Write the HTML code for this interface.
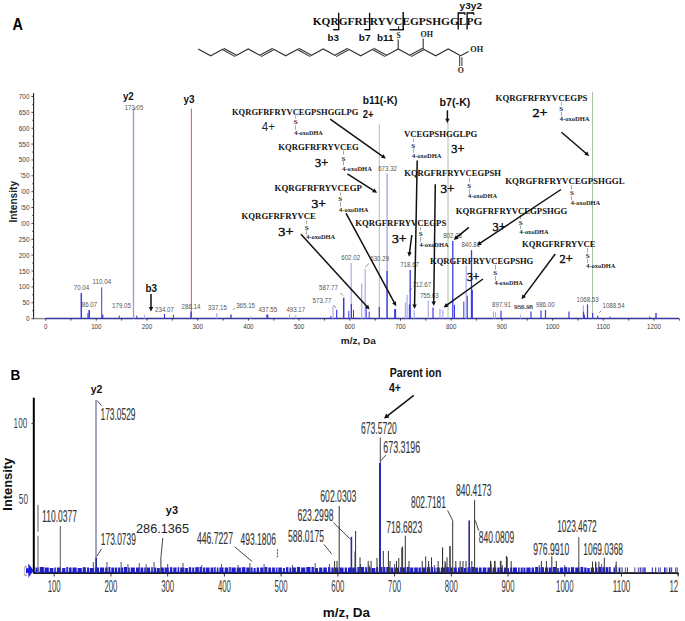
<!DOCTYPE html>
<html><head><meta charset="utf-8"><style>
html,body{margin:0;padding:0;background:#fff;}
body{width:685px;height:621px;overflow:hidden;}
svg{display:block;}
</style></head><body>
<svg width="685" height="621" viewBox="0 0 685 621">
<rect width="685" height="621" fill="#fff"/>
<text x="12.60" y="30.10" font-size="16.5" font-family='"Liberation Sans", sans-serif' font-weight="bold" fill="#000" text-anchor="start" textLength="10.40" lengthAdjust="spacingAndGlyphs" >A</text>
<text x="312.70" y="24.80" font-size="10.8" font-family='"Liberation Serif", serif' font-weight="bold" fill="#111" text-anchor="start" textLength="169.60" lengthAdjust="spacingAndGlyphs" >KQRGFRFRYVCEGPSHGGLPG</text>
<line x1="338.70" y1="12.80" x2="338.70" y2="29.90" stroke="#000" stroke-width="1.3" />
<line x1="333.10" y1="29.70" x2="339.30" y2="29.70" stroke="#000" stroke-width="1.3" />
<line x1="369.60" y1="12.80" x2="369.60" y2="29.90" stroke="#000" stroke-width="1.3" />
<line x1="364.40" y1="29.70" x2="370.20" y2="29.70" stroke="#000" stroke-width="1.3" />
<line x1="403.20" y1="12.10" x2="403.20" y2="30.10" stroke="#000" stroke-width="1.4" />
<line x1="389.70" y1="29.80" x2="403.80" y2="29.80" stroke="#000" stroke-width="1.3" />
<line x1="398.60" y1="26.30" x2="398.60" y2="29.80" stroke="#000" stroke-width="1.0" />
<path d="M458.2,29.6 L458.2,13.0 L464.7,13.0 L464.9,14.8" fill="none" stroke="#000" stroke-width="1.3"/>
<path d="M467.1,29.6 L467.1,13.0 L473.6,13.0 L473.8,14.8" fill="none" stroke="#000" stroke-width="1.3"/>
<text x="327.50" y="40.60" font-size="9.5" font-family='"Liberation Sans", sans-serif' font-weight="bold" fill="#111" text-anchor="start" textLength="11.50" lengthAdjust="spacingAndGlyphs" >b3</text>
<text x="358.80" y="40.60" font-size="9.5" font-family='"Liberation Sans", sans-serif' font-weight="bold" fill="#111" text-anchor="start" textLength="11.70" lengthAdjust="spacingAndGlyphs" >b7</text>
<text x="377.00" y="40.80" font-size="9.5" font-family='"Liberation Sans", sans-serif' font-weight="bold" fill="#111" text-anchor="start" textLength="16.60" lengthAdjust="spacingAndGlyphs" >b11</text>
<text x="459.60" y="8.60" font-size="9.5" font-family='"Liberation Sans", sans-serif' font-weight="bold" fill="#111" text-anchor="start" textLength="22.40" lengthAdjust="spacingAndGlyphs" >y3y2</text>
<path d="M198.20,49.00 L210.70,55.80 L223.20,49.00" fill="none" stroke="#333" stroke-width="1.2" stroke-linejoin="miter"/>
<path d="M235.70,55.80 L248.20,49.00 L260.70,55.80" fill="none" stroke="#333" stroke-width="1.2" stroke-linejoin="miter"/>
<path d="M273.20,49.00 L285.70,55.80 L298.20,49.00" fill="none" stroke="#333" stroke-width="1.2" stroke-linejoin="miter"/>
<path d="M310.70,55.80 L323.20,49.00 L335.70,55.80" fill="none" stroke="#333" stroke-width="1.2" stroke-linejoin="miter"/>
<path d="M348.20,49.00 L360.70,55.80 L373.20,49.00" fill="none" stroke="#333" stroke-width="1.2" stroke-linejoin="miter"/>
<path d="M385.70,55.80 L398.20,49.00 L410.70,55.80" fill="none" stroke="#333" stroke-width="1.2" stroke-linejoin="miter"/>
<path d="M423.20,49.00 L435.70,55.80 L448.20,49.00 L460.70,55.80" fill="none" stroke="#333" stroke-width="1.2" stroke-linejoin="miter"/>
<line x1="222.75" y1="49.83" x2="235.25" y2="56.63" stroke="#333" stroke-width="1.1" />
<line x1="223.65" y1="48.17" x2="236.15" y2="54.97" stroke="#333" stroke-width="1.1" />
<line x1="261.15" y1="56.63" x2="273.65" y2="49.83" stroke="#333" stroke-width="1.1" />
<line x1="260.25" y1="54.97" x2="272.75" y2="48.17" stroke="#333" stroke-width="1.1" />
<line x1="297.75" y1="49.83" x2="310.25" y2="56.63" stroke="#333" stroke-width="1.1" />
<line x1="298.65" y1="48.17" x2="311.15" y2="54.97" stroke="#333" stroke-width="1.1" />
<line x1="336.15" y1="56.63" x2="348.65" y2="49.83" stroke="#333" stroke-width="1.1" />
<line x1="335.25" y1="54.97" x2="347.75" y2="48.17" stroke="#333" stroke-width="1.1" />
<line x1="372.75" y1="49.83" x2="385.25" y2="56.63" stroke="#333" stroke-width="1.1" />
<line x1="373.65" y1="48.17" x2="386.15" y2="54.97" stroke="#333" stroke-width="1.1" />
<line x1="411.15" y1="56.63" x2="423.65" y2="49.83" stroke="#333" stroke-width="1.1" />
<line x1="410.25" y1="54.97" x2="422.75" y2="48.17" stroke="#333" stroke-width="1.1" />
<line x1="398.20" y1="49.00" x2="398.20" y2="39.60" stroke="#333" stroke-width="1.1" />
<text x="398.50" y="37.60" font-size="7.5" font-family='"Liberation Serif", serif' font-weight="bold" fill="#222" text-anchor="middle" >S</text>
<line x1="423.20" y1="49.00" x2="423.20" y2="38.60" stroke="#333" stroke-width="1.1" />
<text x="426.80" y="37.20" font-size="7.8" font-family='"Liberation Serif", serif' font-weight="bold" fill="#222" text-anchor="middle" textLength="12.50" lengthAdjust="spacingAndGlyphs" >OH</text>
<line x1="460.70" y1="55.80" x2="468.60" y2="51.60" stroke="#333" stroke-width="1.1" />
<text x="476.70" y="51.80" font-size="7.8" font-family='"Liberation Serif", serif' font-weight="bold" fill="#222" text-anchor="middle" textLength="12.80" lengthAdjust="spacingAndGlyphs" >OH</text>
<line x1="459.70" y1="55.80" x2="459.70" y2="66.00" stroke="#333" stroke-width="1.0" />
<line x1="461.90" y1="57.30" x2="461.90" y2="66.00" stroke="#333" stroke-width="1.0" />
<text x="460.70" y="73.20" font-size="7.8" font-family='"Liberation Serif", serif' font-weight="bold" fill="#222" text-anchor="middle" >O</text>
<line x1="33.60" y1="93.00" x2="33.60" y2="319.20" stroke="#222" stroke-width="1.1" />
<line x1="33.00" y1="318.60" x2="45.50" y2="318.60" stroke="#888" stroke-width="1.4" />
<line x1="45.50" y1="318.60" x2="679.00" y2="318.60" stroke="#35359a" stroke-width="1.5" />
<line x1="31.40" y1="318.60" x2="33.60" y2="318.60" stroke="#333" stroke-width="0.9" />
<line x1="32.20" y1="310.67" x2="33.60" y2="310.67" stroke="#333" stroke-width="0.9" />
<line x1="31.40" y1="302.74" x2="33.60" y2="302.74" stroke="#333" stroke-width="0.9" />
<line x1="32.20" y1="294.80" x2="33.60" y2="294.80" stroke="#333" stroke-width="0.9" />
<line x1="31.40" y1="286.87" x2="33.60" y2="286.87" stroke="#333" stroke-width="0.9" />
<line x1="32.20" y1="278.94" x2="33.60" y2="278.94" stroke="#333" stroke-width="0.9" />
<line x1="31.40" y1="271.01" x2="33.60" y2="271.01" stroke="#333" stroke-width="0.9" />
<line x1="32.20" y1="263.08" x2="33.60" y2="263.08" stroke="#333" stroke-width="0.9" />
<line x1="31.40" y1="255.14" x2="33.60" y2="255.14" stroke="#333" stroke-width="0.9" />
<line x1="32.20" y1="247.21" x2="33.60" y2="247.21" stroke="#333" stroke-width="0.9" />
<line x1="31.40" y1="239.28" x2="33.60" y2="239.28" stroke="#333" stroke-width="0.9" />
<line x1="32.20" y1="231.35" x2="33.60" y2="231.35" stroke="#333" stroke-width="0.9" />
<line x1="31.40" y1="223.41" x2="33.60" y2="223.41" stroke="#333" stroke-width="0.9" />
<line x1="32.20" y1="215.48" x2="33.60" y2="215.48" stroke="#333" stroke-width="0.9" />
<line x1="31.40" y1="207.55" x2="33.60" y2="207.55" stroke="#333" stroke-width="0.9" />
<line x1="32.20" y1="199.62" x2="33.60" y2="199.62" stroke="#333" stroke-width="0.9" />
<line x1="31.40" y1="191.69" x2="33.60" y2="191.69" stroke="#333" stroke-width="0.9" />
<line x1="32.20" y1="183.75" x2="33.60" y2="183.75" stroke="#333" stroke-width="0.9" />
<line x1="31.40" y1="175.82" x2="33.60" y2="175.82" stroke="#333" stroke-width="0.9" />
<line x1="32.20" y1="167.89" x2="33.60" y2="167.89" stroke="#333" stroke-width="0.9" />
<line x1="31.40" y1="159.96" x2="33.60" y2="159.96" stroke="#333" stroke-width="0.9" />
<line x1="32.20" y1="152.03" x2="33.60" y2="152.03" stroke="#333" stroke-width="0.9" />
<line x1="31.40" y1="144.09" x2="33.60" y2="144.09" stroke="#333" stroke-width="0.9" />
<line x1="32.20" y1="136.16" x2="33.60" y2="136.16" stroke="#333" stroke-width="0.9" />
<line x1="31.40" y1="128.23" x2="33.60" y2="128.23" stroke="#333" stroke-width="0.9" />
<line x1="32.20" y1="120.30" x2="33.60" y2="120.30" stroke="#333" stroke-width="0.9" />
<line x1="31.40" y1="112.36" x2="33.60" y2="112.36" stroke="#333" stroke-width="0.9" />
<line x1="32.20" y1="104.43" x2="33.60" y2="104.43" stroke="#333" stroke-width="0.9" />
<line x1="31.40" y1="96.50" x2="33.60" y2="96.50" stroke="#333" stroke-width="0.9" />
<text x="29.50" y="321.10" font-size="7.2" font-family='"Liberation Sans", sans-serif' font-weight="normal" fill="#3a3a3a" text-anchor="end" textLength="3.56" lengthAdjust="spacingAndGlyphs" >0</text>
<text x="29.50" y="305.24" font-size="7.2" font-family='"Liberation Sans", sans-serif' font-weight="normal" fill="#3a3a3a" text-anchor="end" textLength="7.12" lengthAdjust="spacingAndGlyphs" >50</text>
<text x="29.50" y="289.37" font-size="7.2" font-family='"Liberation Sans", sans-serif' font-weight="normal" fill="#3a3a3a" text-anchor="end" textLength="10.68" lengthAdjust="spacingAndGlyphs" >100</text>
<text x="29.50" y="273.51" font-size="7.2" font-family='"Liberation Sans", sans-serif' font-weight="normal" fill="#3a3a3a" text-anchor="end" textLength="10.68" lengthAdjust="spacingAndGlyphs" >150</text>
<text x="29.50" y="257.64" font-size="7.2" font-family='"Liberation Sans", sans-serif' font-weight="normal" fill="#3a3a3a" text-anchor="end" textLength="10.68" lengthAdjust="spacingAndGlyphs" >200</text>
<text x="29.50" y="241.78" font-size="7.2" font-family='"Liberation Sans", sans-serif' font-weight="normal" fill="#3a3a3a" text-anchor="end" textLength="10.68" lengthAdjust="spacingAndGlyphs" >250</text>
<text x="29.50" y="225.91" font-size="7.2" font-family='"Liberation Sans", sans-serif' font-weight="normal" fill="#3a3a3a" text-anchor="end" textLength="10.68" lengthAdjust="spacingAndGlyphs" >300</text>
<text x="29.50" y="210.05" font-size="7.2" font-family='"Liberation Sans", sans-serif' font-weight="normal" fill="#3a3a3a" text-anchor="end" textLength="10.68" lengthAdjust="spacingAndGlyphs" >350</text>
<text x="29.50" y="194.19" font-size="7.2" font-family='"Liberation Sans", sans-serif' font-weight="normal" fill="#3a3a3a" text-anchor="end" textLength="10.68" lengthAdjust="spacingAndGlyphs" >400</text>
<text x="29.50" y="178.32" font-size="7.2" font-family='"Liberation Sans", sans-serif' font-weight="normal" fill="#3a3a3a" text-anchor="end" textLength="10.68" lengthAdjust="spacingAndGlyphs" >450</text>
<text x="29.50" y="162.46" font-size="7.2" font-family='"Liberation Sans", sans-serif' font-weight="normal" fill="#3a3a3a" text-anchor="end" textLength="10.68" lengthAdjust="spacingAndGlyphs" >500</text>
<text x="29.50" y="146.59" font-size="7.2" font-family='"Liberation Sans", sans-serif' font-weight="normal" fill="#3a3a3a" text-anchor="end" textLength="10.68" lengthAdjust="spacingAndGlyphs" >550</text>
<text x="29.50" y="130.73" font-size="7.2" font-family='"Liberation Sans", sans-serif' font-weight="normal" fill="#3a3a3a" text-anchor="end" textLength="10.68" lengthAdjust="spacingAndGlyphs" >600</text>
<text x="29.50" y="114.86" font-size="7.2" font-family='"Liberation Sans", sans-serif' font-weight="normal" fill="#3a3a3a" text-anchor="end" textLength="10.68" lengthAdjust="spacingAndGlyphs" >650</text>
<text x="29.50" y="99.00" font-size="7.2" font-family='"Liberation Sans", sans-serif' font-weight="normal" fill="#3a3a3a" text-anchor="end" textLength="10.68" lengthAdjust="spacingAndGlyphs" >700</text>
<line x1="45.60" y1="318.60" x2="45.60" y2="320.60" stroke="#333" stroke-width="0.9" />
<line x1="70.95" y1="318.60" x2="70.95" y2="320.60" stroke="#333" stroke-width="0.9" />
<line x1="96.30" y1="318.60" x2="96.30" y2="320.60" stroke="#333" stroke-width="0.9" />
<line x1="121.65" y1="318.60" x2="121.65" y2="320.60" stroke="#333" stroke-width="0.9" />
<line x1="147.00" y1="318.60" x2="147.00" y2="320.60" stroke="#333" stroke-width="0.9" />
<line x1="172.35" y1="318.60" x2="172.35" y2="320.60" stroke="#333" stroke-width="0.9" />
<line x1="197.70" y1="318.60" x2="197.70" y2="320.60" stroke="#333" stroke-width="0.9" />
<line x1="223.05" y1="318.60" x2="223.05" y2="320.60" stroke="#333" stroke-width="0.9" />
<line x1="248.40" y1="318.60" x2="248.40" y2="320.60" stroke="#333" stroke-width="0.9" />
<line x1="273.75" y1="318.60" x2="273.75" y2="320.60" stroke="#333" stroke-width="0.9" />
<line x1="299.10" y1="318.60" x2="299.10" y2="320.60" stroke="#333" stroke-width="0.9" />
<line x1="324.45" y1="318.60" x2="324.45" y2="320.60" stroke="#333" stroke-width="0.9" />
<line x1="349.80" y1="318.60" x2="349.80" y2="320.60" stroke="#333" stroke-width="0.9" />
<line x1="375.15" y1="318.60" x2="375.15" y2="320.60" stroke="#333" stroke-width="0.9" />
<line x1="400.50" y1="318.60" x2="400.50" y2="320.60" stroke="#333" stroke-width="0.9" />
<line x1="425.85" y1="318.60" x2="425.85" y2="320.60" stroke="#333" stroke-width="0.9" />
<line x1="451.20" y1="318.60" x2="451.20" y2="320.60" stroke="#333" stroke-width="0.9" />
<line x1="476.55" y1="318.60" x2="476.55" y2="320.60" stroke="#333" stroke-width="0.9" />
<line x1="501.90" y1="318.60" x2="501.90" y2="320.60" stroke="#333" stroke-width="0.9" />
<line x1="527.25" y1="318.60" x2="527.25" y2="320.60" stroke="#333" stroke-width="0.9" />
<line x1="552.60" y1="318.60" x2="552.60" y2="320.60" stroke="#333" stroke-width="0.9" />
<line x1="577.95" y1="318.60" x2="577.95" y2="320.60" stroke="#333" stroke-width="0.9" />
<line x1="603.30" y1="318.60" x2="603.30" y2="320.60" stroke="#333" stroke-width="0.9" />
<line x1="628.65" y1="318.60" x2="628.65" y2="320.60" stroke="#333" stroke-width="0.9" />
<line x1="654.00" y1="318.60" x2="654.00" y2="320.60" stroke="#333" stroke-width="0.9" />
<line x1="679.35" y1="318.60" x2="679.35" y2="320.60" stroke="#333" stroke-width="0.9" />
<text x="45.60" y="329.10" font-size="6.9" font-family='"Liberation Sans", sans-serif' font-weight="normal" fill="#3a3a3a" text-anchor="middle" textLength="3.45" lengthAdjust="spacingAndGlyphs" >0</text>
<text x="96.30" y="329.10" font-size="6.9" font-family='"Liberation Sans", sans-serif' font-weight="normal" fill="#3a3a3a" text-anchor="middle" textLength="10.34" lengthAdjust="spacingAndGlyphs" >100</text>
<text x="147.00" y="329.10" font-size="6.9" font-family='"Liberation Sans", sans-serif' font-weight="normal" fill="#3a3a3a" text-anchor="middle" textLength="10.34" lengthAdjust="spacingAndGlyphs" >200</text>
<text x="197.70" y="329.10" font-size="6.9" font-family='"Liberation Sans", sans-serif' font-weight="normal" fill="#3a3a3a" text-anchor="middle" textLength="10.34" lengthAdjust="spacingAndGlyphs" >300</text>
<text x="248.40" y="329.10" font-size="6.9" font-family='"Liberation Sans", sans-serif' font-weight="normal" fill="#3a3a3a" text-anchor="middle" textLength="10.34" lengthAdjust="spacingAndGlyphs" >400</text>
<text x="299.10" y="329.10" font-size="6.9" font-family='"Liberation Sans", sans-serif' font-weight="normal" fill="#3a3a3a" text-anchor="middle" textLength="10.34" lengthAdjust="spacingAndGlyphs" >500</text>
<text x="349.80" y="329.10" font-size="6.9" font-family='"Liberation Sans", sans-serif' font-weight="normal" fill="#3a3a3a" text-anchor="middle" textLength="10.34" lengthAdjust="spacingAndGlyphs" >600</text>
<text x="400.50" y="329.10" font-size="6.9" font-family='"Liberation Sans", sans-serif' font-weight="normal" fill="#3a3a3a" text-anchor="middle" textLength="10.34" lengthAdjust="spacingAndGlyphs" >700</text>
<text x="451.20" y="329.10" font-size="6.9" font-family='"Liberation Sans", sans-serif' font-weight="normal" fill="#3a3a3a" text-anchor="middle" textLength="10.34" lengthAdjust="spacingAndGlyphs" >800</text>
<text x="501.90" y="329.10" font-size="6.9" font-family='"Liberation Sans", sans-serif' font-weight="normal" fill="#3a3a3a" text-anchor="middle" textLength="10.34" lengthAdjust="spacingAndGlyphs" >900</text>
<text x="552.60" y="329.10" font-size="6.9" font-family='"Liberation Sans", sans-serif' font-weight="normal" fill="#3a3a3a" text-anchor="middle" textLength="13.79" lengthAdjust="spacingAndGlyphs" >1000</text>
<text x="603.30" y="329.10" font-size="6.9" font-family='"Liberation Sans", sans-serif' font-weight="normal" fill="#3a3a3a" text-anchor="middle" textLength="13.79" lengthAdjust="spacingAndGlyphs" >1100</text>
<text x="654.00" y="329.10" font-size="6.9" font-family='"Liberation Sans", sans-serif' font-weight="normal" fill="#3a3a3a" text-anchor="middle" textLength="13.79" lengthAdjust="spacingAndGlyphs" >1200</text>
<text x="340.80" y="344.30" font-size="9.8" font-family='"Liberation Sans", sans-serif' font-weight="bold" fill="#222" text-anchor="start" textLength="35.00" lengthAdjust="spacingAndGlyphs" >m/z, Da</text>
<rect x="7" y="174" width="14.4" height="55" fill="#fff"/>
<text x="0.00" y="0.00" font-size="10.2" font-family='"Liberation Sans", sans-serif' font-weight="bold" fill="#222" text-anchor="middle" textLength="41.60" lengthAdjust="spacingAndGlyphs" transform="translate(16.6,201.8) rotate(-90)">Intensity</text>
<line x1="379.30" y1="124.40" x2="379.30" y2="318.60" stroke="#9dbd9d" stroke-width="0.9" />
<line x1="448.00" y1="122.50" x2="448.00" y2="318.60" stroke="#9dbd9d" stroke-width="0.9" />
<line x1="592.50" y1="92.00" x2="592.50" y2="318.60" stroke="#9dbd9d" stroke-width="0.9" />
<line x1="133.50" y1="108.80" x2="133.50" y2="318.60" stroke="#a092dc" stroke-width="1.3" />
<line x1="191.40" y1="108.50" x2="191.40" y2="318.60" stroke="#e46464" stroke-width="1.1" />
<line x1="81.30" y1="293.10" x2="81.30" y2="318.60" stroke="#3b3be0" stroke-width="1.5" />
<line x1="89.20" y1="310.10" x2="89.20" y2="318.60" stroke="#3b3be0" stroke-width="1.6" />
<line x1="87.90" y1="313.00" x2="87.90" y2="318.60" stroke="#3b3be0" stroke-width="1.0" />
<line x1="101.70" y1="287.40" x2="101.70" y2="318.60" stroke="#3b3be0" stroke-width="1.0" />
<line x1="102.80" y1="314.50" x2="102.80" y2="318.60" stroke="#3b3be0" stroke-width="1.2" />
<line x1="119.30" y1="315.60" x2="119.30" y2="318.60" stroke="#3b3be0" stroke-width="1.0" />
<line x1="136.70" y1="315.60" x2="136.70" y2="318.60" stroke="#3b3be0" stroke-width="1.0" />
<line x1="144.40" y1="314.60" x2="144.40" y2="318.60" stroke="#aaaaf2" stroke-width="1.0" />
<line x1="164.50" y1="314.00" x2="164.50" y2="318.60" stroke="#3b3be0" stroke-width="1.2" />
<line x1="173.40" y1="314.60" x2="173.40" y2="318.60" stroke="#3b3be0" stroke-width="1.0" />
<line x1="191.00" y1="311.50" x2="191.00" y2="318.60" stroke="#3b3be0" stroke-width="1.4" />
<line x1="216.80" y1="313.30" x2="216.80" y2="318.60" stroke="#aaaaf2" stroke-width="1.2" />
<line x1="231.00" y1="314.50" x2="231.00" y2="318.60" stroke="#3b3be0" stroke-width="1.4" />
<line x1="251.00" y1="316.00" x2="251.00" y2="318.60" stroke="#aaaaf2" stroke-width="1.0" />
<line x1="267.30" y1="314.50" x2="267.30" y2="318.60" stroke="#3b3be0" stroke-width="2.0" />
<line x1="289.50" y1="314.00" x2="289.50" y2="318.60" stroke="#aaaaf2" stroke-width="1.0" />
<line x1="295.80" y1="315.00" x2="295.80" y2="318.60" stroke="#aaaaf2" stroke-width="1.0" />
<line x1="330.80" y1="316.00" x2="330.80" y2="318.60" stroke="#3b3be0" stroke-width="1.0" />
<line x1="333.00" y1="306.30" x2="333.00" y2="318.60" stroke="#aaaaf2" stroke-width="1.2" />
<line x1="336.70" y1="309.80" x2="336.70" y2="318.60" stroke="#3b3be0" stroke-width="1.2" />
<line x1="343.70" y1="297.70" x2="343.70" y2="318.60" stroke="#3b3be0" stroke-width="1.5" />
<line x1="348.80" y1="311.00" x2="348.80" y2="318.60" stroke="#3b3be0" stroke-width="1.0" />
<line x1="351.20" y1="263.00" x2="351.20" y2="318.60" stroke="#aaaaf2" stroke-width="1.2" />
<line x1="351.40" y1="304.00" x2="351.40" y2="318.60" stroke="#3b3be0" stroke-width="1.2" />
<line x1="353.50" y1="309.80" x2="353.50" y2="318.60" stroke="#3b3be0" stroke-width="1.0" />
<line x1="361.70" y1="283.60" x2="361.70" y2="318.60" stroke="#aaaaf2" stroke-width="1.2" />
<line x1="365.20" y1="269.00" x2="365.20" y2="318.60" stroke="#aaaaf2" stroke-width="1.2" />
<line x1="366.20" y1="307.50" x2="366.20" y2="318.60" stroke="#3b3be0" stroke-width="1.0" />
<line x1="369.20" y1="311.70" x2="369.20" y2="318.60" stroke="#3b3be0" stroke-width="1.0" />
<line x1="379.30" y1="307.00" x2="379.30" y2="318.60" stroke="#3b3be0" stroke-width="1.2" />
<line x1="387.10" y1="173.30" x2="387.10" y2="318.60" stroke="#9a9af0" stroke-width="1.2" />
<line x1="387.10" y1="271.00" x2="387.10" y2="318.60" stroke="#3b3be0" stroke-width="1.3" />
<line x1="395.10" y1="309.00" x2="395.10" y2="318.60" stroke="#3b3be0" stroke-width="2.0" />
<line x1="405.40" y1="302.50" x2="405.40" y2="318.60" stroke="#aaaaf2" stroke-width="1.2" />
<line x1="407.10" y1="294.80" x2="407.10" y2="318.60" stroke="#aaaaf2" stroke-width="1.2" />
<line x1="410.20" y1="269.90" x2="410.20" y2="318.60" stroke="#3b3be0" stroke-width="1.3" />
<line x1="409.50" y1="304.40" x2="409.50" y2="318.60" stroke="#3b3be0" stroke-width="1.3" />
<line x1="414.20" y1="310.20" x2="414.20" y2="318.60" stroke="#aaaaf2" stroke-width="1.2" />
<line x1="428.30" y1="300.50" x2="428.30" y2="318.60" stroke="#aaaaf2" stroke-width="1.2" />
<line x1="433.00" y1="307.50" x2="433.00" y2="318.60" stroke="#3b3be0" stroke-width="1.2" />
<line x1="440.00" y1="308.60" x2="440.00" y2="318.60" stroke="#aaaaf2" stroke-width="1.2" />
<line x1="442.80" y1="309.80" x2="442.80" y2="318.60" stroke="#aaaaf2" stroke-width="1.2" />
<line x1="452.80" y1="240.90" x2="452.80" y2="318.60" stroke="#3b3be0" stroke-width="1.3" />
<line x1="454.50" y1="305.00" x2="454.50" y2="318.60" stroke="#3b3be0" stroke-width="1.0" />
<line x1="463.80" y1="301.60" x2="463.80" y2="318.60" stroke="#3b3be0" stroke-width="1.0" />
<line x1="466.20" y1="265.40" x2="466.20" y2="318.60" stroke="#aaaaf2" stroke-width="1.2" />
<line x1="467.30" y1="295.80" x2="467.30" y2="318.60" stroke="#3b3be0" stroke-width="1.0" />
<line x1="471.50" y1="250.20" x2="471.50" y2="318.60" stroke="#3b3be0" stroke-width="1.3" />
<line x1="472.40" y1="290.00" x2="472.40" y2="318.60" stroke="#3b3be0" stroke-width="1.0" />
<line x1="493.50" y1="311.40" x2="493.50" y2="318.60" stroke="#aaaaf2" stroke-width="1.0" />
<line x1="495.60" y1="312.00" x2="495.60" y2="318.60" stroke="#aaaaf2" stroke-width="1.0" />
<line x1="501.00" y1="310.80" x2="501.00" y2="318.60" stroke="#3b3be0" stroke-width="1.2" />
<line x1="520.40" y1="314.40" x2="520.40" y2="318.60" stroke="#aaaaf2" stroke-width="1.0" />
<line x1="531.00" y1="311.40" x2="531.00" y2="318.60" stroke="#3b3be0" stroke-width="1.2" />
<line x1="541.00" y1="310.50" x2="541.00" y2="318.60" stroke="#3b3be0" stroke-width="1.2" />
<line x1="545.50" y1="310.00" x2="545.50" y2="318.60" stroke="#3b3be0" stroke-width="1.2" />
<line x1="569.00" y1="311.40" x2="569.00" y2="318.60" stroke="#3b3be0" stroke-width="1.2" />
<line x1="583.30" y1="305.30" x2="583.30" y2="318.60" stroke="#aaaaf2" stroke-width="1.2" />
<line x1="583.60" y1="311.80" x2="583.60" y2="318.60" stroke="#3b3be0" stroke-width="1.2" />
<line x1="584.40" y1="314.90" x2="584.40" y2="318.60" stroke="#3b3be0" stroke-width="1.0" />
<line x1="587.50" y1="304.40" x2="587.50" y2="318.60" stroke="#3b3be0" stroke-width="1.2" />
<line x1="592.60" y1="313.10" x2="592.60" y2="318.60" stroke="#3b3be0" stroke-width="1.2" />
<line x1="597.70" y1="315.80" x2="597.70" y2="318.60" stroke="#3b3be0" stroke-width="1.2" />
<line x1="610.00" y1="316.50" x2="610.00" y2="318.60" stroke="#3b3be0" stroke-width="1.0" />
<line x1="649.70" y1="316.50" x2="649.70" y2="318.60" stroke="#3b3be0" stroke-width="1.0" />
<line x1="656.00" y1="313.00" x2="656.00" y2="318.60" stroke="#3b3be0" stroke-width="1.4" />
<text x="81.50" y="290.00" font-size="7.0" font-family='"Liberation Sans", sans-serif' font-weight="normal" fill="#555" text-anchor="middle" textLength="15.30" lengthAdjust="spacingAndGlyphs" >70.04</text>
<text x="89.50" y="307.00" font-size="7.0" font-family='"Liberation Sans", sans-serif' font-weight="normal" fill="#555" text-anchor="middle" textLength="15.39" lengthAdjust="spacingAndGlyphs" >86.07</text>
<text x="101.80" y="284.00" font-size="7.0" font-family='"Liberation Sans", sans-serif' font-weight="normal" fill="#555" text-anchor="middle" textLength="18.81" lengthAdjust="spacingAndGlyphs" >110.04</text>
<text x="134.00" y="109.90" font-size="7.0" font-family='"Liberation Sans", sans-serif' font-weight="normal" fill="#555" text-anchor="middle" textLength="18.60" lengthAdjust="spacingAndGlyphs" >173.05</text>
<text x="121.50" y="307.50" font-size="7.0" font-family='"Liberation Sans", sans-serif' font-weight="normal" fill="#555" text-anchor="middle" textLength="18.81" lengthAdjust="spacingAndGlyphs" >179.05</text>
<text x="164.50" y="311.50" font-size="7.0" font-family='"Liberation Sans", sans-serif' font-weight="normal" fill="#555" text-anchor="middle" textLength="18.81" lengthAdjust="spacingAndGlyphs" >234.07</text>
<text x="191.00" y="308.50" font-size="7.0" font-family='"Liberation Sans", sans-serif' font-weight="normal" fill="#555" text-anchor="middle" textLength="18.81" lengthAdjust="spacingAndGlyphs" >286.14</text>
<text x="217.50" y="309.80" font-size="7.0" font-family='"Liberation Sans", sans-serif' font-weight="normal" fill="#555" text-anchor="middle" textLength="18.81" lengthAdjust="spacingAndGlyphs" >337.15</text>
<text x="245.60" y="307.50" font-size="7.0" font-family='"Liberation Sans", sans-serif' font-weight="normal" fill="#555" text-anchor="middle" textLength="18.81" lengthAdjust="spacingAndGlyphs" >365.15</text>
<text x="267.80" y="311.70" font-size="7.0" font-family='"Liberation Sans", sans-serif' font-weight="normal" fill="#555" text-anchor="middle" textLength="18.81" lengthAdjust="spacingAndGlyphs" >437.55</text>
<text x="295.80" y="311.70" font-size="7.0" font-family='"Liberation Sans", sans-serif' font-weight="normal" fill="#555" text-anchor="middle" textLength="18.81" lengthAdjust="spacingAndGlyphs" >493.17</text>
<text x="322.00" y="302.80" font-size="7.0" font-family='"Liberation Sans", sans-serif' font-weight="normal" fill="#555" text-anchor="middle" textLength="18.81" lengthAdjust="spacingAndGlyphs" >573.77</text>
<text x="328.50" y="290.00" font-size="7.0" font-family='"Liberation Sans", sans-serif' font-weight="normal" fill="#555" text-anchor="middle" textLength="18.81" lengthAdjust="spacingAndGlyphs" >587.77</text>
<text x="350.70" y="259.60" font-size="7.0" font-family='"Liberation Sans", sans-serif' font-weight="normal" fill="#555" text-anchor="middle" textLength="18.81" lengthAdjust="spacingAndGlyphs" >602.02</text>
<text x="379.70" y="261.20" font-size="7.0" font-family='"Liberation Sans", sans-serif' font-weight="normal" fill="#555" text-anchor="middle" textLength="18.81" lengthAdjust="spacingAndGlyphs" >630.29</text>
<text x="387.60" y="170.50" font-size="7.0" font-family='"Liberation Sans", sans-serif' font-weight="normal" fill="#555" text-anchor="middle" textLength="18.81" lengthAdjust="spacingAndGlyphs" >673.32</text>
<text x="409.60" y="266.60" font-size="7.0" font-family='"Liberation Sans", sans-serif' font-weight="normal" fill="#555" text-anchor="middle" textLength="18.81" lengthAdjust="spacingAndGlyphs" >718.67</text>
<text x="421.80" y="287.00" font-size="7.0" font-family='"Liberation Sans", sans-serif' font-weight="normal" fill="#555" text-anchor="middle" textLength="18.81" lengthAdjust="spacingAndGlyphs" >712.67</text>
<text x="429.30" y="297.70" font-size="7.0" font-family='"Liberation Sans", sans-serif' font-weight="normal" fill="#555" text-anchor="middle" textLength="18.81" lengthAdjust="spacingAndGlyphs" >755.63</text>
<text x="452.60" y="238.00" font-size="7.0" font-family='"Liberation Sans", sans-serif' font-weight="normal" fill="#555" text-anchor="middle" textLength="18.81" lengthAdjust="spacingAndGlyphs" >802.38</text>
<text x="470.80" y="247.40" font-size="7.0" font-family='"Liberation Sans", sans-serif' font-weight="normal" fill="#555" text-anchor="middle" textLength="18.81" lengthAdjust="spacingAndGlyphs" >840.81</text>
<text x="501.50" y="307.30" font-size="7.0" font-family='"Liberation Sans", sans-serif' font-weight="normal" fill="#555" text-anchor="middle" textLength="18.81" lengthAdjust="spacingAndGlyphs" >897.91</text>
<text x="523.60" y="309.00" font-size="6.6" font-family='"Liberation Serif", serif' font-weight="normal" fill="#3a3a3a" text-anchor="middle" textLength="18.60" lengthAdjust="spacingAndGlyphs" stroke="#3a3a3a" stroke-width="0.2">956.98</text>
<text x="545.20" y="307.00" font-size="7.0" font-family='"Liberation Sans", sans-serif' font-weight="normal" fill="#555" text-anchor="middle" textLength="18.81" lengthAdjust="spacingAndGlyphs" >986.00</text>
<text x="587.60" y="301.90" font-size="7.0" font-family='"Liberation Sans", sans-serif' font-weight="normal" fill="#555" text-anchor="middle" textLength="22.23" lengthAdjust="spacingAndGlyphs" >1068.53</text>
<text x="613.60" y="307.60" font-size="7.0" font-family='"Liberation Sans", sans-serif' font-weight="normal" fill="#555" text-anchor="middle" textLength="22.23" lengthAdjust="spacingAndGlyphs" >1088.54</text>
<line x1="233.40" y1="309.80" x2="234.80" y2="308.20" stroke="#555" stroke-width="0.7" />
<line x1="365.20" y1="267.20" x2="368.80" y2="263.60" stroke="#555" stroke-width="0.7" />
<line x1="340.50" y1="293.00" x2="343.00" y2="295.50" stroke="#555" stroke-width="0.7" />
<line x1="333.50" y1="305.00" x2="336.00" y2="308.00" stroke="#555" stroke-width="0.7" />
<line x1="409.40" y1="291.40" x2="411.60" y2="288.20" stroke="#555" stroke-width="0.7" />
<line x1="599.20" y1="312.70" x2="601.40" y2="310.60" stroke="#555" stroke-width="0.7" />
<line x1="137.50" y1="106.00" x2="133.50" y2="110.00" stroke="#555" stroke-width="0.7" />
<text x="122.90" y="100.30" font-size="10.2" font-family='"Liberation Sans", sans-serif' font-weight="bold" fill="#111" text-anchor="start" textLength="10.80" lengthAdjust="spacingAndGlyphs" >y2</text>
<text x="183.40" y="103.20" font-size="10.2" font-family='"Liberation Sans", sans-serif' font-weight="bold" fill="#111" text-anchor="start" textLength="11.10" lengthAdjust="spacingAndGlyphs" >y3</text>
<text x="145.50" y="291.50" font-size="10.2" font-family='"Liberation Sans", sans-serif' font-weight="bold" fill="#111" text-anchor="start" textLength="11.50" lengthAdjust="spacingAndGlyphs" >b3</text>
<line x1="151.00" y1="294.00" x2="151.00" y2="307.50" stroke="#111" stroke-width="1.5" />
<polygon points="151.00,311.50 148.80,307.00 153.20,307.00" fill="#111"/>
<text x="362.80" y="104.30" font-size="10.2" font-family='"Liberation Sans", sans-serif' font-weight="bold" fill="#111" text-anchor="start" textLength="34.70" lengthAdjust="spacingAndGlyphs" >b11(-K)</text>
<text x="362.80" y="118.00" font-size="10.2" font-family='"Liberation Sans", sans-serif' font-weight="bold" fill="#111" text-anchor="start" textLength="10.80" lengthAdjust="spacingAndGlyphs" >2+</text>
<text x="439.60" y="106.00" font-size="10.2" font-family='"Liberation Sans", sans-serif' font-weight="bold" fill="#111" text-anchor="start" textLength="30.80" lengthAdjust="spacingAndGlyphs" >b7(-K)</text>
<line x1="447.40" y1="110.30" x2="447.40" y2="119.20" stroke="#111" stroke-width="1.5" />
<polygon points="447.40,123.20 445.20,118.70 449.60,118.70" fill="#111"/>
<text x="232.00" y="114.60" font-size="8.6" font-family='"Liberation Serif", serif' font-weight="bold" fill="#111" text-anchor="start" textLength="126.40" lengthAdjust="spacingAndGlyphs" >KQRGFRFRYVCEGPSHGGLPG</text>
<line x1="295.50" y1="115.80" x2="295.50" y2="118.60" stroke="#8a8a8a" stroke-width="0.75" />
<text x="295.60" y="124.40" font-size="7.0" font-family='"Liberation Serif", serif' font-weight="bold" fill="#222" text-anchor="middle" >S</text>
<line x1="295.50" y1="125.00" x2="295.50" y2="129.70" stroke="#8a8a8a" stroke-width="0.75" />
<text x="294.30" y="134.60" font-size="5.8" font-family='"Liberation Serif", serif' font-weight="bold" fill="#222" text-anchor="start" textLength="28.50" lengthAdjust="spacingAndGlyphs" >4-oxoDHA</text>
<text x="261.80" y="131.00" font-size="12.0" font-family='"Liberation Sans", sans-serif' font-weight="normal" fill="#2a2a2a" text-anchor="start" textLength="13.20" lengthAdjust="spacingAndGlyphs" >4+</text>
<text x="278.30" y="149.50" font-size="8.6" font-family='"Liberation Serif", serif' font-weight="bold" fill="#111" text-anchor="start" textLength="80.40" lengthAdjust="spacingAndGlyphs" >KQRGFRFRYVCEG</text>
<line x1="343.50" y1="150.70" x2="343.50" y2="154.70" stroke="#8a8a8a" stroke-width="0.75" />
<text x="343.50" y="160.50" font-size="7.0" font-family='"Liberation Serif", serif' font-weight="bold" fill="#222" text-anchor="middle" >S</text>
<line x1="343.50" y1="161.10" x2="343.50" y2="165.60" stroke="#8a8a8a" stroke-width="0.75" />
<text x="342.20" y="170.50" font-size="5.8" font-family='"Liberation Serif", serif' font-weight="bold" fill="#222" text-anchor="start" textLength="29.70" lengthAdjust="spacingAndGlyphs" >4-oxoDHA</text>
<text x="315.10" y="166.50" font-size="12.5" font-family='"Liberation Serif", serif' font-weight="normal" fill="#111" text-anchor="start" textLength="13.10" lengthAdjust="spacingAndGlyphs" stroke="#111" stroke-width="0.45">3+</text>
<text x="274.60" y="191.00" font-size="8.6" font-family='"Liberation Serif", serif' font-weight="bold" fill="#111" text-anchor="start" textLength="87.30" lengthAdjust="spacingAndGlyphs" >KQRGFRFRYVCEGP</text>
<line x1="340.50" y1="192.20" x2="340.50" y2="195.40" stroke="#8a8a8a" stroke-width="0.75" />
<text x="340.10" y="201.20" font-size="7.0" font-family='"Liberation Serif", serif' font-weight="bold" fill="#222" text-anchor="middle" >S</text>
<line x1="340.50" y1="201.80" x2="340.50" y2="206.90" stroke="#8a8a8a" stroke-width="0.75" />
<text x="339.00" y="211.80" font-size="5.8" font-family='"Liberation Serif", serif' font-weight="bold" fill="#222" text-anchor="start" textLength="29.50" lengthAdjust="spacingAndGlyphs" >4-oxoDHA</text>
<text x="311.40" y="207.80" font-size="12.5" font-family='"Liberation Serif", serif' font-weight="normal" fill="#111" text-anchor="start" textLength="14.50" lengthAdjust="spacingAndGlyphs" stroke="#111" stroke-width="0.45">3+</text>
<text x="241.50" y="219.10" font-size="8.6" font-family='"Liberation Serif", serif' font-weight="bold" fill="#111" text-anchor="start" textLength="74.40" lengthAdjust="spacingAndGlyphs" >KQRGFRFRYVCE</text>
<line x1="306.50" y1="220.30" x2="306.50" y2="223.90" stroke="#8a8a8a" stroke-width="0.75" />
<text x="306.70" y="229.70" font-size="7.0" font-family='"Liberation Serif", serif' font-weight="bold" fill="#222" text-anchor="middle" >S</text>
<line x1="306.50" y1="230.30" x2="306.50" y2="234.50" stroke="#8a8a8a" stroke-width="0.75" />
<text x="306.20" y="239.40" font-size="5.8" font-family='"Liberation Serif", serif' font-weight="bold" fill="#222" text-anchor="start" textLength="28.90" lengthAdjust="spacingAndGlyphs" >4-oxoDHA</text>
<text x="278.30" y="235.80" font-size="12.5" font-family='"Liberation Serif", serif' font-weight="normal" fill="#111" text-anchor="start" textLength="15.20" lengthAdjust="spacingAndGlyphs" stroke="#111" stroke-width="0.45">3+</text>
<text x="403.90" y="137.40" font-size="8.6" font-family='"Liberation Serif", serif' font-weight="bold" fill="#111" text-anchor="start" textLength="73.40" lengthAdjust="spacingAndGlyphs" >VCEGPSHGGLPG</text>
<line x1="413.50" y1="138.60" x2="413.50" y2="141.90" stroke="#8a8a8a" stroke-width="0.75" />
<text x="413.30" y="147.70" font-size="7.0" font-family='"Liberation Serif", serif' font-weight="bold" fill="#222" text-anchor="middle" >S</text>
<line x1="413.50" y1="148.30" x2="413.50" y2="153.00" stroke="#8a8a8a" stroke-width="0.75" />
<text x="411.90" y="157.90" font-size="5.8" font-family='"Liberation Serif", serif' font-weight="bold" fill="#222" text-anchor="start" textLength="29.60" lengthAdjust="spacingAndGlyphs" >4-oxoDHA</text>
<text x="451.30" y="152.80" font-size="12.5" font-family='"Liberation Serif", serif' font-weight="normal" fill="#111" text-anchor="start" textLength="13.10" lengthAdjust="spacingAndGlyphs" stroke="#111" stroke-width="0.45">3+</text>
<text x="495.60" y="100.80" font-size="8.6" font-family='"Liberation Serif", serif' font-weight="bold" fill="#111" text-anchor="start" textLength="91.80" lengthAdjust="spacingAndGlyphs" >KQRGFRFRYVCEGPS</text>
<line x1="561.50" y1="102.00" x2="561.50" y2="105.40" stroke="#8a8a8a" stroke-width="0.75" />
<text x="561.10" y="111.20" font-size="7.0" font-family='"Liberation Serif", serif' font-weight="bold" fill="#222" text-anchor="middle" >S</text>
<line x1="561.50" y1="111.80" x2="561.50" y2="116.30" stroke="#8a8a8a" stroke-width="0.75" />
<text x="559.70" y="121.20" font-size="5.8" font-family='"Liberation Serif", serif' font-weight="bold" fill="#222" text-anchor="start" textLength="29.80" lengthAdjust="spacingAndGlyphs" >4-oxoDHA</text>
<text x="532.40" y="117.20" font-size="12.5" font-family='"Liberation Serif", serif' font-weight="normal" fill="#111" text-anchor="start" textLength="15.10" lengthAdjust="spacingAndGlyphs" stroke="#111" stroke-width="0.45">2+</text>
<text x="404.20" y="176.30" font-size="8.6" font-family='"Liberation Serif", serif' font-weight="bold" fill="#111" text-anchor="start" textLength="96.80" lengthAdjust="spacingAndGlyphs" >KQRGFRFRYVCEGPSH</text>
<line x1="469.50" y1="177.50" x2="469.50" y2="182.10" stroke="#8a8a8a" stroke-width="0.75" />
<text x="469.20" y="187.90" font-size="7.0" font-family='"Liberation Serif", serif' font-weight="bold" fill="#222" text-anchor="middle" >S</text>
<line x1="469.50" y1="188.50" x2="469.50" y2="193.30" stroke="#8a8a8a" stroke-width="0.75" />
<text x="468.00" y="198.20" font-size="5.8" font-family='"Liberation Serif", serif' font-weight="bold" fill="#222" text-anchor="start" textLength="29.00" lengthAdjust="spacingAndGlyphs" >4-oxoDHA</text>
<text x="440.50" y="193.40" font-size="12.5" font-family='"Liberation Serif", serif' font-weight="normal" fill="#111" text-anchor="start" textLength="14.00" lengthAdjust="spacingAndGlyphs" stroke="#111" stroke-width="0.45">3+</text>
<text x="505.20" y="184.20" font-size="8.6" font-family='"Liberation Serif", serif' font-weight="bold" fill="#111" text-anchor="start" textLength="119.50" lengthAdjust="spacingAndGlyphs" >KQRGFRFRYVCEGPSHGGL</text>
<line x1="571.50" y1="185.40" x2="571.50" y2="189.40" stroke="#8a8a8a" stroke-width="0.75" />
<text x="571.90" y="195.20" font-size="7.0" font-family='"Liberation Serif", serif' font-weight="bold" fill="#222" text-anchor="middle" >S</text>
<line x1="571.50" y1="195.80" x2="571.50" y2="200.40" stroke="#8a8a8a" stroke-width="0.75" />
<text x="570.80" y="205.30" font-size="5.8" font-family='"Liberation Serif", serif' font-weight="bold" fill="#222" text-anchor="start" textLength="29.50" lengthAdjust="spacingAndGlyphs" >4-oxoDHA</text>
<text x="455.80" y="213.90" font-size="8.6" font-family='"Liberation Serif", serif' font-weight="bold" fill="#111" text-anchor="start" textLength="111.60" lengthAdjust="spacingAndGlyphs" >KQRGFRFRYVCEGPSHGG</text>
<line x1="520.50" y1="215.10" x2="520.50" y2="219.20" stroke="#8a8a8a" stroke-width="0.75" />
<text x="520.70" y="225.00" font-size="7.0" font-family='"Liberation Serif", serif' font-weight="bold" fill="#222" text-anchor="middle" >S</text>
<line x1="520.50" y1="225.60" x2="520.50" y2="229.30" stroke="#8a8a8a" stroke-width="0.75" />
<text x="519.60" y="234.20" font-size="5.8" font-family='"Liberation Serif", serif' font-weight="bold" fill="#222" text-anchor="start" textLength="28.90" lengthAdjust="spacingAndGlyphs" >4-oxoDHA</text>
<text x="492.60" y="230.50" font-size="12.5" font-family='"Liberation Serif", serif' font-weight="normal" fill="#111" text-anchor="start" textLength="13.10" lengthAdjust="spacingAndGlyphs" stroke="#111" stroke-width="0.45">3+</text>
<text x="355.20" y="225.70" font-size="8.6" font-family='"Liberation Serif", serif' font-weight="bold" fill="#111" text-anchor="start" textLength="91.10" lengthAdjust="spacingAndGlyphs" >KQRGFRFRYVCEGPS</text>
<line x1="420.50" y1="226.90" x2="420.50" y2="230.50" stroke="#8a8a8a" stroke-width="0.75" />
<text x="420.60" y="236.30" font-size="7.0" font-family='"Liberation Serif", serif' font-weight="bold" fill="#222" text-anchor="middle" >S</text>
<line x1="420.50" y1="236.90" x2="420.50" y2="241.90" stroke="#8a8a8a" stroke-width="0.75" />
<text x="419.40" y="246.80" font-size="5.8" font-family='"Liberation Serif", serif' font-weight="bold" fill="#222" text-anchor="start" textLength="29.20" lengthAdjust="spacingAndGlyphs" >4-oxoDHA</text>
<text x="391.90" y="243.20" font-size="12.5" font-family='"Liberation Serif", serif' font-weight="normal" fill="#111" text-anchor="start" textLength="14.70" lengthAdjust="spacingAndGlyphs" stroke="#111" stroke-width="0.45">3+</text>
<text x="522.00" y="246.70" font-size="8.6" font-family='"Liberation Serif", serif' font-weight="bold" fill="#111" text-anchor="start" textLength="73.60" lengthAdjust="spacingAndGlyphs" >KQRGFRFRYVCE</text>
<line x1="587.50" y1="247.90" x2="587.50" y2="252.60" stroke="#8a8a8a" stroke-width="0.75" />
<text x="587.70" y="258.40" font-size="7.0" font-family='"Liberation Serif", serif' font-weight="bold" fill="#222" text-anchor="middle" >S</text>
<line x1="587.50" y1="259.00" x2="587.50" y2="263.00" stroke="#8a8a8a" stroke-width="0.75" />
<text x="586.30" y="267.90" font-size="5.8" font-family='"Liberation Serif", serif' font-weight="bold" fill="#222" text-anchor="start" textLength="29.00" lengthAdjust="spacingAndGlyphs" >4-oxoDHA</text>
<text x="559.60" y="263.30" font-size="12.5" font-family='"Liberation Serif", serif' font-weight="normal" fill="#111" text-anchor="start" textLength="13.10" lengthAdjust="spacingAndGlyphs" stroke="#111" stroke-width="0.45">2+</text>
<text x="430.00" y="263.80" font-size="8.6" font-family='"Liberation Serif", serif' font-weight="bold" fill="#111" text-anchor="start" textLength="103.30" lengthAdjust="spacingAndGlyphs" >KQRGFRFRYVCEGPSHG</text>
<line x1="495.50" y1="265.00" x2="495.50" y2="269.60" stroke="#8a8a8a" stroke-width="0.75" />
<text x="495.20" y="275.40" font-size="7.0" font-family='"Liberation Serif", serif' font-weight="bold" fill="#222" text-anchor="middle" >S</text>
<line x1="495.50" y1="276.00" x2="495.50" y2="280.50" stroke="#8a8a8a" stroke-width="0.75" />
<text x="494.40" y="285.40" font-size="5.8" font-family='"Liberation Serif", serif' font-weight="bold" fill="#222" text-anchor="start" textLength="28.40" lengthAdjust="spacingAndGlyphs" >4-oxoDHA</text>
<text x="467.00" y="281.00" font-size="12.5" font-family='"Liberation Serif", serif' font-weight="normal" fill="#111" text-anchor="start" textLength="12.50" lengthAdjust="spacingAndGlyphs" stroke="#111" stroke-width="0.45">3+</text>
<line x1="330.20" y1="119.20" x2="382.63" y2="156.29" stroke="#111" stroke-width="1.5" />
<polygon points="385.90,158.60 380.96,157.80 383.50,154.21" fill="#111"/>
<line x1="347.40" y1="173.90" x2="373.73" y2="190.65" stroke="#111" stroke-width="1.5" />
<polygon points="377.10,192.80 372.12,192.24 374.48,188.53" fill="#111"/>
<line x1="346.10" y1="213.30" x2="394.30" y2="302.68" stroke="#111" stroke-width="1.5" />
<polygon points="396.20,306.20 392.13,303.28 396.00,301.19" fill="#111"/>
<line x1="301.00" y1="234.30" x2="366.90" y2="306.54" stroke="#111" stroke-width="1.5" />
<polygon points="369.60,309.50 364.94,307.66 368.19,304.69" fill="#111"/>
<line x1="411.80" y1="235.00" x2="409.51" y2="252.83" stroke="#111" stroke-width="1.5" />
<polygon points="409.00,256.80 407.39,252.06 411.76,252.62" fill="#111"/>
<line x1="417.20" y1="160.50" x2="414.57" y2="305.00" stroke="#111" stroke-width="1.5" />
<polygon points="414.50,309.00 412.38,304.46 416.78,304.54" fill="#111"/>
<line x1="435.30" y1="184.20" x2="433.75" y2="302.00" stroke="#111" stroke-width="1.5" />
<polygon points="433.70,306.00 431.56,301.47 435.96,301.53" fill="#111"/>
<line x1="468.80" y1="227.30" x2="456.77" y2="237.34" stroke="#111" stroke-width="1.5" />
<polygon points="453.70,239.90 455.75,235.33 458.56,238.71" fill="#111"/>
<line x1="561.00" y1="189.50" x2="480.13" y2="243.19" stroke="#111" stroke-width="1.5" />
<polygon points="476.80,245.40 479.33,241.08 481.77,244.74" fill="#111"/>
<line x1="483.00" y1="279.00" x2="446.84" y2="305.16" stroke="#111" stroke-width="1.5" />
<polygon points="443.60,307.50 445.96,303.08 448.54,306.65" fill="#111"/>
<line x1="555.20" y1="254.00" x2="523.89" y2="296.09" stroke="#111" stroke-width="1.5" />
<polygon points="521.50,299.30 522.42,294.38 525.95,297.00" fill="#111"/>
<line x1="561.50" y1="132.30" x2="586.17" y2="153.49" stroke="#111" stroke-width="1.5" />
<polygon points="589.20,156.10 584.35,154.84 587.22,151.50" fill="#111"/>
<text x="10.50" y="379.50" font-size="14.3" font-family='"Liberation Sans", sans-serif' font-weight="bold" fill="#000" text-anchor="start" textLength="9.80" lengthAdjust="spacingAndGlyphs" >B</text>
<line x1="33.80" y1="397.70" x2="33.80" y2="573.50" stroke="#000" stroke-width="2.0" />
<line x1="31.50" y1="423.40" x2="33.80" y2="423.40" stroke="#333" stroke-width="1.0" />
<text x="27.20" y="428.30" font-size="15.5" font-family='"Liberation Sans", sans-serif' font-weight="normal" fill="#444" text-anchor="end" textLength="13.60" lengthAdjust="spacingAndGlyphs" >100</text>
<text x="28.00" y="503.50" font-size="15.5" font-family='"Liberation Sans", sans-serif' font-weight="normal" fill="#444" text-anchor="end" textLength="9.20" lengthAdjust="spacingAndGlyphs" >50</text>
<text x="0.00" y="0.00" font-size="13.0" font-family='"Liberation Sans", sans-serif' font-weight="bold" fill="#111" text-anchor="middle" textLength="53.00" lengthAdjust="spacingAndGlyphs" transform="translate(12.0,484.2) rotate(-90)">Intensity</text>
<text x="322.70" y="617.40" font-size="13.5" font-family='"Liberation Sans", sans-serif' font-weight="bold" fill="#111" text-anchor="start" textLength="47.20" lengthAdjust="spacingAndGlyphs" >m/z, Da</text>
<line x1="33.80" y1="573.00" x2="678.50" y2="573.00" stroke="#111" stroke-width="1.3" />
<line x1="54.20" y1="573.00" x2="54.20" y2="576.50" stroke="#333" stroke-width="1.0" />
<text x="54.20" y="591.60" font-size="16.0" font-family='"Liberation Sans", sans-serif' font-weight="normal" fill="#3a3a3a" text-anchor="middle" textLength="13.00" lengthAdjust="spacingAndGlyphs" >100</text>
<line x1="110.93" y1="573.00" x2="110.93" y2="576.50" stroke="#333" stroke-width="1.0" />
<text x="110.93" y="591.60" font-size="16.0" font-family='"Liberation Sans", sans-serif' font-weight="normal" fill="#3a3a3a" text-anchor="middle" textLength="13.00" lengthAdjust="spacingAndGlyphs" >200</text>
<line x1="167.66" y1="573.00" x2="167.66" y2="576.50" stroke="#333" stroke-width="1.0" />
<text x="167.66" y="591.60" font-size="16.0" font-family='"Liberation Sans", sans-serif' font-weight="normal" fill="#3a3a3a" text-anchor="middle" textLength="13.00" lengthAdjust="spacingAndGlyphs" >300</text>
<line x1="224.39" y1="573.00" x2="224.39" y2="576.50" stroke="#333" stroke-width="1.0" />
<text x="224.39" y="591.60" font-size="16.0" font-family='"Liberation Sans", sans-serif' font-weight="normal" fill="#3a3a3a" text-anchor="middle" textLength="13.00" lengthAdjust="spacingAndGlyphs" >400</text>
<line x1="281.12" y1="573.00" x2="281.12" y2="576.50" stroke="#333" stroke-width="1.0" />
<text x="281.12" y="591.60" font-size="16.0" font-family='"Liberation Sans", sans-serif' font-weight="normal" fill="#3a3a3a" text-anchor="middle" textLength="13.00" lengthAdjust="spacingAndGlyphs" >500</text>
<line x1="337.85" y1="573.00" x2="337.85" y2="576.50" stroke="#333" stroke-width="1.0" />
<text x="337.85" y="591.60" font-size="16.0" font-family='"Liberation Sans", sans-serif' font-weight="normal" fill="#3a3a3a" text-anchor="middle" textLength="13.00" lengthAdjust="spacingAndGlyphs" >600</text>
<line x1="394.58" y1="573.00" x2="394.58" y2="576.50" stroke="#333" stroke-width="1.0" />
<text x="394.58" y="591.60" font-size="16.0" font-family='"Liberation Sans", sans-serif' font-weight="normal" fill="#3a3a3a" text-anchor="middle" textLength="13.00" lengthAdjust="spacingAndGlyphs" >700</text>
<line x1="451.31" y1="573.00" x2="451.31" y2="576.50" stroke="#333" stroke-width="1.0" />
<text x="451.31" y="591.60" font-size="16.0" font-family='"Liberation Sans", sans-serif' font-weight="normal" fill="#3a3a3a" text-anchor="middle" textLength="13.00" lengthAdjust="spacingAndGlyphs" >800</text>
<line x1="508.04" y1="573.00" x2="508.04" y2="576.50" stroke="#333" stroke-width="1.0" />
<text x="508.04" y="591.60" font-size="16.0" font-family='"Liberation Sans", sans-serif' font-weight="normal" fill="#3a3a3a" text-anchor="middle" textLength="13.00" lengthAdjust="spacingAndGlyphs" >900</text>
<line x1="564.77" y1="573.00" x2="564.77" y2="576.50" stroke="#333" stroke-width="1.0" />
<text x="564.77" y="591.60" font-size="16.0" font-family='"Liberation Sans", sans-serif' font-weight="normal" fill="#3a3a3a" text-anchor="middle" textLength="17.50" lengthAdjust="spacingAndGlyphs" >1000</text>
<line x1="621.50" y1="573.00" x2="621.50" y2="576.50" stroke="#333" stroke-width="1.0" />
<text x="621.50" y="591.60" font-size="16.0" font-family='"Liberation Sans", sans-serif' font-weight="normal" fill="#3a3a3a" text-anchor="middle" textLength="17.50" lengthAdjust="spacingAndGlyphs" >1100</text>
<line x1="678.23" y1="573.00" x2="678.23" y2="576.50" stroke="#333" stroke-width="1.0" />
<text x="669.50" y="591.60" font-size="16.0" font-family='"Liberation Sans", sans-serif' font-weight="normal" fill="#3a3a3a" text-anchor="start" textLength="8.70" lengthAdjust="spacingAndGlyphs" >12</text>
<rect x="35.50" y="567.50" width="3.20" height="5.50" fill="#2020c8"/>
<rect x="39.70" y="567.00" width="4.20" height="6.00" fill="#2020c8"/>
<rect x="44.60" y="567.50" width="4.20" height="5.50" fill="#2020c8"/>
<rect x="49.70" y="568.00" width="3.60" height="5.00" fill="#2020c8"/>
<rect x="54.20" y="567.50" width="1.60" height="5.50" fill="#2020c8"/>
<rect x="56.90" y="567.50" width="4.20" height="5.50" fill="#2020c8"/>
<rect x="62.20" y="568.00" width="3.20" height="5.00" fill="#2020c8"/>
<rect x="66.30" y="567.00" width="1.60" height="6.00" fill="#2020c8"/>
<rect x="68.80" y="567.50" width="2.80" height="5.50" fill="#2020c8"/>
<rect x="72.50" y="567.50" width="4.20" height="5.50" fill="#2020c8"/>
<rect x="77.60" y="568.00" width="4.20" height="5.00" fill="#2020c8"/>
<rect x="82.70" y="567.20" width="3.20" height="5.80" fill="#2020c8"/>
<rect x="87.00" y="567.50" width="2.00" height="5.50" fill="#2020c8"/>
<rect x="89.70" y="568.00" width="4.20" height="5.00" fill="#2020c8"/>
<rect x="94.80" y="567.50" width="4.20" height="5.50" fill="#2020c8"/>
<rect x="99.90" y="567.50" width="4.20" height="5.50" fill="#2020c8"/>
<rect x="105.10" y="567.50" width="2.40" height="5.50" fill="#2020c8"/>
<rect x="108.40" y="567.00" width="2.00" height="6.00" fill="#2020c8"/>
<rect x="111.30" y="567.50" width="2.80" height="5.50" fill="#2020c8"/>
<rect x="114.80" y="567.50" width="2.40" height="5.50" fill="#2020c8"/>
<rect x="118.10" y="567.50" width="2.00" height="5.50" fill="#2020c8"/>
<rect x="120.80" y="567.50" width="2.40" height="5.50" fill="#2020c8"/>
<rect x="123.90" y="567.00" width="3.20" height="6.00" fill="#2020c8"/>
<rect x="128.10" y="567.50" width="1.60" height="5.50" fill="#2020c8"/>
<rect x="130.70" y="567.50" width="4.20" height="5.50" fill="#2020c8"/>
<rect x="136.00" y="567.50" width="3.60" height="5.50" fill="#2020c8"/>
<rect x="140.50" y="567.50" width="2.80" height="5.50" fill="#2020c8"/>
<rect x="144.20" y="567.50" width="1.60" height="5.50" fill="#2020c8"/>
<rect x="146.50" y="567.50" width="3.60" height="5.50" fill="#2020c8"/>
<rect x="151.20" y="567.20" width="1.60" height="5.80" fill="#2020c8"/>
<rect x="153.90" y="567.50" width="2.40" height="5.50" fill="#2020c8"/>
<rect x="157.00" y="568.00" width="2.80" height="5.00" fill="#2020c8"/>
<rect x="160.70" y="567.50" width="3.20" height="5.50" fill="#2020c8"/>
<rect x="164.60" y="567.50" width="4.20" height="5.50" fill="#2020c8"/>
<rect x="169.90" y="567.20" width="2.40" height="5.80" fill="#2020c8"/>
<rect x="173.30" y="567.50" width="3.20" height="5.50" fill="#2020c8"/>
<rect x="177.60" y="567.20" width="1.60" height="5.80" fill="#2020c8"/>
<rect x="180.20" y="567.50" width="4.20" height="5.50" fill="#2020c8"/>
<rect x="185.10" y="568.00" width="2.80" height="5.00" fill="#2020c8"/>
<rect x="188.80" y="567.20" width="2.40" height="5.80" fill="#2020c8"/>
<rect x="192.20" y="567.50" width="2.00" height="5.50" fill="#2020c8"/>
<rect x="195.20" y="567.20" width="3.60" height="5.80" fill="#2020c8"/>
<rect x="199.50" y="567.00" width="2.40" height="6.00" fill="#2020c8"/>
<rect x="202.90" y="567.50" width="2.40" height="5.50" fill="#2020c8"/>
<rect x="206.00" y="567.50" width="3.60" height="5.50" fill="#2020c8"/>
<rect x="210.60" y="567.50" width="2.80" height="5.50" fill="#2020c8"/>
<rect x="214.10" y="567.20" width="1.60" height="5.80" fill="#2020c8"/>
<rect x="216.80" y="567.50" width="1.60" height="5.50" fill="#2020c8"/>
<rect x="219.40" y="567.50" width="4.20" height="5.50" fill="#2020c8"/>
<rect x="224.70" y="567.50" width="3.60" height="5.50" fill="#2020c8"/>
<rect x="229.20" y="567.00" width="1.60" height="6.00" fill="#2020c8"/>
<rect x="231.50" y="567.50" width="4.20" height="5.50" fill="#2020c8"/>
<rect x="236.70" y="567.50" width="4.20" height="5.50" fill="#2020c8"/>
<rect x="241.80" y="567.20" width="3.60" height="5.80" fill="#2020c8"/>
<rect x="246.30" y="567.50" width="3.60" height="5.50" fill="#2020c8"/>
<rect x="250.60" y="567.50" width="2.00" height="5.50" fill="#2020c8"/>
<rect x="253.60" y="568.00" width="2.00" height="5.00" fill="#2020c8"/>
<rect x="256.70" y="567.50" width="2.40" height="5.50" fill="#2020c8"/>
<rect x="260.20" y="567.50" width="3.20" height="5.50" fill="#2020c8"/>
<rect x="264.50" y="567.00" width="2.80" height="6.00" fill="#2020c8"/>
<rect x="268.30" y="567.50" width="2.80" height="5.50" fill="#2020c8"/>
<rect x="272.10" y="567.50" width="2.80" height="5.50" fill="#2020c8"/>
<rect x="275.80" y="567.50" width="1.60" height="5.50" fill="#2020c8"/>
<rect x="278.30" y="567.50" width="3.60" height="5.50" fill="#2020c8"/>
<rect x="282.90" y="568.00" width="2.00" height="5.00" fill="#2020c8"/>
<rect x="286.00" y="567.20" width="2.40" height="5.80" fill="#2020c8"/>
<rect x="289.40" y="567.50" width="1.60" height="5.50" fill="#2020c8"/>
<rect x="291.70" y="567.50" width="4.20" height="5.50" fill="#2020c8"/>
<rect x="296.90" y="567.00" width="3.20" height="6.00" fill="#2020c8"/>
<rect x="301.10" y="567.50" width="4.20" height="5.50" fill="#2020c8"/>
<rect x="306.30" y="567.00" width="4.20" height="6.00" fill="#2020c8"/>
<rect x="311.50" y="567.00" width="2.40" height="6.00" fill="#2020c8"/>
<rect x="314.80" y="568.00" width="3.20" height="5.00" fill="#2020c8"/>
<rect x="319.10" y="567.50" width="3.20" height="5.50" fill="#2020c8"/>
<rect x="323.30" y="567.50" width="3.60" height="5.50" fill="#2020c8"/>
<rect x="328.00" y="567.20" width="2.40" height="5.80" fill="#2020c8"/>
<rect x="331.40" y="567.50" width="2.40" height="5.50" fill="#2020c8"/>
<rect x="334.80" y="567.50" width="3.60" height="5.50" fill="#2020c8"/>
<rect x="339.40" y="567.50" width="4.20" height="5.50" fill="#2020c8"/>
<rect x="344.70" y="567.50" width="2.40" height="5.50" fill="#2020c8"/>
<rect x="348.00" y="567.50" width="3.20" height="5.50" fill="#2020c8"/>
<rect x="352.10" y="567.50" width="4.20" height="5.50" fill="#2020c8"/>
<rect x="357.40" y="567.00" width="2.40" height="6.00" fill="#2020c8"/>
<rect x="360.50" y="567.00" width="3.60" height="6.00" fill="#2020c8"/>
<rect x="365.20" y="567.20" width="2.00" height="5.80" fill="#2020c8"/>
<rect x="368.30" y="567.20" width="2.40" height="5.80" fill="#2020c8"/>
<rect x="371.70" y="568.00" width="3.60" height="5.00" fill="#2020c8"/>
<rect x="376.20" y="567.20" width="2.00" height="5.80" fill="#2020c8"/>
<rect x="379.30" y="567.00" width="3.20" height="6.00" fill="#2020c8"/>
<rect x="383.40" y="567.00" width="2.00" height="6.00" fill="#2020c8"/>
<rect x="386.30" y="567.00" width="3.60" height="6.00" fill="#2020c8"/>
<rect x="390.60" y="567.50" width="2.80" height="5.50" fill="#2020c8"/>
<rect x="394.30" y="567.50" width="1.60" height="5.50" fill="#2020c8"/>
<rect x="396.60" y="567.50" width="2.40" height="5.50" fill="#2020c8"/>
<rect x="400.10" y="567.20" width="2.00" height="5.80" fill="#2020c8"/>
<rect x="402.80" y="567.50" width="2.80" height="5.50" fill="#2020c8"/>
<rect x="406.60" y="567.00" width="2.80" height="6.00" fill="#2020c8"/>
<rect x="410.10" y="567.50" width="3.20" height="5.50" fill="#2020c8"/>
<rect x="414.20" y="567.50" width="3.60" height="5.50" fill="#2020c8"/>
<rect x="418.50" y="567.50" width="2.40" height="5.50" fill="#2020c8"/>
<rect x="421.90" y="567.50" width="4.20" height="5.50" fill="#2020c8"/>
<rect x="426.80" y="567.20" width="3.60" height="5.80" fill="#2020c8"/>
<rect x="431.40" y="567.20" width="1.60" height="5.80" fill="#2020c8"/>
<rect x="434.00" y="567.50" width="1.60" height="5.50" fill="#2020c8"/>
<rect x="436.60" y="567.50" width="3.20" height="5.50" fill="#2020c8"/>
<rect x="440.80" y="567.50" width="4.20" height="5.50" fill="#2020c8"/>
<rect x="446.10" y="567.20" width="2.80" height="5.80" fill="#2020c8"/>
<rect x="449.90" y="567.50" width="2.80" height="5.50" fill="#2020c8"/>
<rect x="453.60" y="567.50" width="3.20" height="5.50" fill="#2020c8"/>
<rect x="457.90" y="567.50" width="2.00" height="5.50" fill="#2020c8"/>
<rect x="460.60" y="567.00" width="2.40" height="6.00" fill="#2020c8"/>
<rect x="463.70" y="568.00" width="2.80" height="5.00" fill="#2020c8"/>
<rect x="467.50" y="567.20" width="3.20" height="5.80" fill="#2020c8"/>
<rect x="471.60" y="567.00" width="2.40" height="6.00" fill="#2020c8"/>
<rect x="475.10" y="567.50" width="2.80" height="5.50" fill="#2020c8"/>
<rect x="478.80" y="567.50" width="2.80" height="5.50" fill="#2020c8"/>
<rect x="482.70" y="567.50" width="3.60" height="5.50" fill="#2020c8"/>
<rect x="487.40" y="567.50" width="4.20" height="5.50" fill="#2020c8"/>
<rect x="492.60" y="567.50" width="3.60" height="5.50" fill="#2020c8"/>
<rect x="497.30" y="567.50" width="2.40" height="5.50" fill="#2020c8"/>
<rect x="500.40" y="567.50" width="2.40" height="5.50" fill="#2020c8"/>
<rect x="503.90" y="567.50" width="2.40" height="5.50" fill="#2020c8"/>
<rect x="507.40" y="568.00" width="1.60" height="5.00" fill="#2020c8"/>
<rect x="510.10" y="567.50" width="2.00" height="5.50" fill="#2020c8"/>
<rect x="512.80" y="567.50" width="4.20" height="5.50" fill="#2020c8"/>
<rect x="518.10" y="567.50" width="1.60" height="5.50" fill="#2020c8"/>
<rect x="520.70" y="567.50" width="2.00" height="5.50" fill="#2020c8"/>
<rect x="523.40" y="567.50" width="2.00" height="5.50" fill="#2020c8"/>
<rect x="526.40" y="567.50" width="4.20" height="5.50" fill="#2020c8"/>
<rect x="531.60" y="567.50" width="2.40" height="5.50" fill="#2020c8"/>
<rect x="535.10" y="567.00" width="3.20" height="6.00" fill="#2020c8"/>
<rect x="539.00" y="567.50" width="1.60" height="5.50" fill="#2020c8"/>
<rect x="541.60" y="567.20" width="2.40" height="5.80" fill="#2020c8"/>
<rect x="545.00" y="567.50" width="3.20" height="5.50" fill="#2020c8"/>
<rect x="548.90" y="567.50" width="2.80" height="5.50" fill="#2020c8"/>
<rect x="552.70" y="567.00" width="3.60" height="6.00" fill="#2020c8"/>
<rect x="557.20" y="568.00" width="1.60" height="5.00" fill="#2020c8"/>
<rect x="559.80" y="567.50" width="3.20" height="5.50" fill="#2020c8"/>
<rect x="563.70" y="567.20" width="3.60" height="5.80" fill="#2020c8"/>
<rect x="568.20" y="567.50" width="1.60" height="5.50" fill="#2020c8"/>
<rect x="570.90" y="567.20" width="3.20" height="5.80" fill="#2020c8"/>
<rect x="575.20" y="567.50" width="4.20" height="5.50" fill="#2020c8"/>
<rect x="580.50" y="567.00" width="2.80" height="6.00" fill="#2020c8"/>
<rect x="584.20" y="567.50" width="2.40" height="5.50" fill="#2020c8"/>
<rect x="587.30" y="568.00" width="2.40" height="5.00" fill="#2020c8"/>
<rect x="590.80" y="567.50" width="3.20" height="5.50" fill="#2020c8"/>
<rect x="595.10" y="567.50" width="2.40" height="5.50" fill="#2020c8"/>
<rect x="598.40" y="567.00" width="2.80" height="6.00" fill="#2020c8"/>
<rect x="602.30" y="567.20" width="2.40" height="5.80" fill="#2020c8"/>
<rect x="605.60" y="567.20" width="2.80" height="5.80" fill="#2020c8"/>
<rect x="609.10" y="567.00" width="1.60" height="6.00" fill="#2020c8"/>
<line x1="33.80" y1="572.40" x2="611.50" y2="572.40" stroke="#2020c8" stroke-width="1.4" />
<rect x="613.50" y="567.4" width="1.60" height="5.6" fill="#2020c8"/>
<rect x="616.30" y="567.4" width="1.00" height="5.6" fill="#6a6aa8"/>
<rect x="618.60" y="567.4" width="1.40" height="5.6" fill="#2020c8"/>
<rect x="620.60" y="567.4" width="0.90" height="5.6" fill="#4a4aa8"/>
<rect x="621.80" y="567.4" width="1.00" height="5.6" fill="#6a6aa8"/>
<rect x="624.80" y="567.4" width="1.00" height="5.6" fill="#4a4aa8"/>
<rect x="626.90" y="567.4" width="1.00" height="5.6" fill="#2020c8"/>
<rect x="634.30" y="567.4" width="1.00" height="5.6" fill="#4a4aa8"/>
<rect x="637.80" y="567.4" width="1.40" height="5.6" fill="#6a6aa8"/>
<rect x="639.80" y="567.4" width="1.60" height="5.6" fill="#4a4aa8"/>
<rect x="642.50" y="567.4" width="1.20" height="5.6" fill="#2020c8"/>
<rect x="644.30" y="567.4" width="1.40" height="5.6" fill="#2020c8"/>
<rect x="651.80" y="567.4" width="1.00" height="5.6" fill="#2020c8"/>
<rect x="655.20" y="567.4" width="1.00" height="5.6" fill="#2020c8"/>
<rect x="658.00" y="567.4" width="1.40" height="5.6" fill="#6a6aa8"/>
<rect x="660.00" y="567.4" width="1.00" height="5.6" fill="#6a6aa8"/>
<rect x="664.00" y="567.4" width="1.60" height="5.6" fill="#2020c8"/>
<rect x="666.30" y="567.4" width="1.20" height="5.6" fill="#6a6aa8"/>
<rect x="669.00" y="567.4" width="1.40" height="5.6" fill="#2020c8"/>
<rect x="671.00" y="567.4" width="1.20" height="5.6" fill="#4a4aa8"/>
<rect x="675.00" y="567.4" width="1.40" height="5.6" fill="#6a6aa8"/>
<rect x="676.80" y="567.4" width="1.00" height="5.6" fill="#4a4aa8"/>
<line x1="33.80" y1="573.30" x2="678.30" y2="573.30" stroke="#111" stroke-width="1.0" />
<line x1="678.00" y1="573.30" x2="678.00" y2="575.20" stroke="#111" stroke-width="1.0" />
<line x1="93.34" y1="562.00" x2="93.34" y2="573.00" stroke="#3a3a6a" stroke-width="0.9" />
<line x1="106.96" y1="562.00" x2="106.96" y2="573.00" stroke="#3a3a6a" stroke-width="0.9" />
<line x1="121.14" y1="562.00" x2="121.14" y2="573.00" stroke="#3a3a6a" stroke-width="0.9" />
<line x1="127.95" y1="564.00" x2="127.95" y2="573.00" stroke="#3a3a6a" stroke-width="0.9" />
<line x1="139.30" y1="563.00" x2="139.30" y2="573.00" stroke="#3a3a6a" stroke-width="0.9" />
<line x1="146.10" y1="564.00" x2="146.10" y2="573.00" stroke="#3a3a6a" stroke-width="0.9" />
<line x1="154.04" y1="562.00" x2="154.04" y2="573.00" stroke="#3a3a6a" stroke-width="0.9" />
<line x1="167.66" y1="564.00" x2="167.66" y2="573.00" stroke="#3a3a6a" stroke-width="0.9" />
<line x1="182.98" y1="563.00" x2="182.98" y2="573.00" stroke="#3a3a6a" stroke-width="0.9" />
<line x1="201.70" y1="565.00" x2="201.70" y2="573.00" stroke="#3a3a6a" stroke-width="0.9" />
<line x1="221.55" y1="564.00" x2="221.55" y2="573.00" stroke="#3a3a6a" stroke-width="0.9" />
<line x1="238.01" y1="565.00" x2="238.01" y2="573.00" stroke="#3a3a6a" stroke-width="0.9" />
<line x1="249.92" y1="563.00" x2="249.92" y2="573.00" stroke="#3a3a6a" stroke-width="0.9" />
<line x1="264.10" y1="564.00" x2="264.10" y2="573.00" stroke="#3a3a6a" stroke-width="0.9" />
<line x1="292.47" y1="565.00" x2="292.47" y2="573.00" stroke="#3a3a6a" stroke-width="0.9" />
<line x1="315.16" y1="563.00" x2="315.16" y2="573.00" stroke="#3a3a6a" stroke-width="0.9" />
<line x1="329.34" y1="564.00" x2="329.34" y2="573.00" stroke="#3a3a6a" stroke-width="0.9" />
<line x1="360.54" y1="564.00" x2="360.54" y2="573.00" stroke="#3a3a6a" stroke-width="0.9" />
<line x1="369.05" y1="565.00" x2="369.05" y2="573.00" stroke="#3a3a6a" stroke-width="0.9" />
<line x1="394.58" y1="564.00" x2="394.58" y2="573.00" stroke="#3a3a6a" stroke-width="0.9" />
<line x1="428.62" y1="564.00" x2="428.62" y2="573.00" stroke="#3a3a6a" stroke-width="0.9" />
<line x1="434.29" y1="565.00" x2="434.29" y2="573.00" stroke="#3a3a6a" stroke-width="0.9" />
<line x1="445.64" y1="563.00" x2="445.64" y2="573.00" stroke="#3a3a6a" stroke-width="0.9" />
<line x1="491.02" y1="564.00" x2="491.02" y2="573.00" stroke="#3a3a6a" stroke-width="0.9" />
<line x1="502.37" y1="565.00" x2="502.37" y2="573.00" stroke="#3a3a6a" stroke-width="0.9" />
<line x1="539.24" y1="565.00" x2="539.24" y2="573.00" stroke="#3a3a6a" stroke-width="0.9" />
<line x1="564.77" y1="565.00" x2="564.77" y2="573.00" stroke="#3a3a6a" stroke-width="0.9" />
<line x1="595.97" y1="563.00" x2="595.97" y2="573.00" stroke="#3a3a6a" stroke-width="0.9" />
<line x1="601.64" y1="564.00" x2="601.64" y2="573.00" stroke="#3a3a6a" stroke-width="0.9" />
<line x1="615.83" y1="565.00" x2="615.83" y2="573.00" stroke="#3a3a6a" stroke-width="0.9" />
<text x="27.30" y="576.00" font-size="14.0" font-family='"Liberation Sans", sans-serif' font-weight="normal" fill="#888" text-anchor="end" textLength="3.60" lengthAdjust="spacingAndGlyphs" >0</text>
<rect x="26.0" y="568.3" width="3.2" height="4.6" fill="#1a1ae0"/>
<polygon points="28.4,563.6 33.6,570.6 28.4,577.8" fill="#1a1ae0"/>
<line x1="38.00" y1="504.80" x2="38.00" y2="573.00" stroke="#777" stroke-width="1.2" />
<line x1="60.30" y1="526.00" x2="60.30" y2="573.00" stroke="#555" stroke-width="1.0" />
<line x1="96.00" y1="400.20" x2="96.00" y2="573.00" stroke="#4a4a80" stroke-width="1.0" />
<line x1="96.20" y1="557.70" x2="96.20" y2="573.00" stroke="#2a2aa0" stroke-width="1.6" />
<line x1="339.20" y1="506.00" x2="339.20" y2="573.00" stroke="#333" stroke-width="1.0" />
<line x1="351.40" y1="536.80" x2="351.40" y2="573.00" stroke="#2a2aa0" stroke-width="1.6" />
<line x1="355.60" y1="531.00" x2="355.60" y2="573.00" stroke="#333" stroke-width="1.0" />
<line x1="380.00" y1="463.00" x2="380.00" y2="573.00" stroke="#2a2ab0" stroke-width="2.0" />
<line x1="383.30" y1="551.00" x2="383.30" y2="573.00" stroke="#333" stroke-width="1.0" />
<line x1="388.40" y1="551.00" x2="388.40" y2="573.00" stroke="#333" stroke-width="1.0" />
<line x1="405.30" y1="535.80" x2="405.30" y2="573.00" stroke="#333" stroke-width="1.0" />
<line x1="402.60" y1="546.60" x2="402.60" y2="573.00" stroke="#333" stroke-width="1.0" />
<line x1="452.70" y1="520.50" x2="452.70" y2="573.00" stroke="#333" stroke-width="1.0" />
<line x1="442.50" y1="547.60" x2="442.50" y2="573.00" stroke="#333" stroke-width="1.0" />
<line x1="450.00" y1="546.00" x2="450.00" y2="573.00" stroke="#333" stroke-width="1.0" />
<line x1="474.60" y1="500.20" x2="474.60" y2="573.00" stroke="#333" stroke-width="1.0" />
<line x1="469.20" y1="520.50" x2="469.20" y2="573.00" stroke="#2a2aa0" stroke-width="1.6" />
<line x1="506.40" y1="556.00" x2="506.40" y2="573.00" stroke="#333" stroke-width="1.0" />
<line x1="160.90" y1="557.60" x2="160.90" y2="573.00" stroke="#333" stroke-width="1.0" />
<line x1="578.80" y1="562.00" x2="578.80" y2="573.00" stroke="#333" stroke-width="1.0" />
<line x1="490.50" y1="560.80" x2="490.50" y2="573.00" stroke="#333" stroke-width="1.0" />
<line x1="495.00" y1="560.80" x2="495.00" y2="573.00" stroke="#333" stroke-width="1.0" />
<line x1="500.40" y1="560.80" x2="500.40" y2="573.00" stroke="#333" stroke-width="1.0" />
<line x1="507.00" y1="557.20" x2="507.00" y2="573.00" stroke="#333" stroke-width="1.0" />
<line x1="541.40" y1="561.00" x2="541.40" y2="573.00" stroke="#333" stroke-width="1.0" />
<line x1="546.40" y1="561.00" x2="546.40" y2="573.00" stroke="#333" stroke-width="1.0" />
<line x1="551.80" y1="556.30" x2="551.80" y2="573.00" stroke="#333" stroke-width="1.0" />
<line x1="556.30" y1="561.00" x2="556.30" y2="573.00" stroke="#333" stroke-width="1.0" />
<line x1="592.50" y1="561.50" x2="592.50" y2="573.00" stroke="#333" stroke-width="1.0" />
<line x1="595.60" y1="561.50" x2="595.60" y2="573.00" stroke="#333" stroke-width="1.0" />
<line x1="598.90" y1="561.50" x2="598.90" y2="573.00" stroke="#333" stroke-width="1.0" />
<line x1="604.30" y1="557.90" x2="604.30" y2="573.00" stroke="#333" stroke-width="1.0" />
<line x1="616.20" y1="561.50" x2="616.20" y2="573.00" stroke="#333" stroke-width="1.0" />
<line x1="334.60" y1="560.90" x2="334.60" y2="573.00" stroke="#333" stroke-width="1.0" />
<line x1="337.00" y1="560.90" x2="337.00" y2="573.00" stroke="#333" stroke-width="1.0" />
<line x1="355.00" y1="551.50" x2="355.00" y2="573.00" stroke="#333" stroke-width="1.0" />
<line x1="360.00" y1="557.40" x2="360.00" y2="573.00" stroke="#333" stroke-width="1.0" />
<line x1="368.20" y1="560.90" x2="368.20" y2="573.00" stroke="#333" stroke-width="1.0" />
<line x1="371.10" y1="560.90" x2="371.10" y2="573.00" stroke="#333" stroke-width="1.0" />
<line x1="377.00" y1="558.00" x2="377.00" y2="573.00" stroke="#333" stroke-width="1.0" />
<line x1="390.00" y1="561.00" x2="390.00" y2="573.00" stroke="#333" stroke-width="1.0" />
<line x1="396.50" y1="561.00" x2="396.50" y2="573.00" stroke="#333" stroke-width="1.0" />
<line x1="398.80" y1="558.00" x2="398.80" y2="573.00" stroke="#333" stroke-width="1.0" />
<line x1="401.80" y1="547.70" x2="401.80" y2="573.00" stroke="#333" stroke-width="1.0" />
<line x1="409.00" y1="561.00" x2="409.00" y2="573.00" stroke="#333" stroke-width="1.0" />
<line x1="422.20" y1="561.00" x2="422.20" y2="573.00" stroke="#333" stroke-width="1.0" />
<line x1="425.70" y1="556.50" x2="425.70" y2="573.00" stroke="#333" stroke-width="1.0" />
<line x1="428.60" y1="561.00" x2="428.60" y2="573.00" stroke="#333" stroke-width="1.0" />
<line x1="431.50" y1="557.40" x2="431.50" y2="573.00" stroke="#333" stroke-width="1.0" />
<line x1="438.20" y1="561.00" x2="438.20" y2="573.00" stroke="#333" stroke-width="1.0" />
<line x1="442.60" y1="547.70" x2="442.60" y2="573.00" stroke="#333" stroke-width="1.0" />
<line x1="445.00" y1="561.00" x2="445.00" y2="573.00" stroke="#333" stroke-width="1.0" />
<line x1="447.00" y1="557.40" x2="447.00" y2="573.00" stroke="#333" stroke-width="1.0" />
<line x1="450.00" y1="546.30" x2="450.00" y2="573.00" stroke="#333" stroke-width="1.0" />
<line x1="455.80" y1="561.00" x2="455.80" y2="573.00" stroke="#333" stroke-width="1.0" />
<line x1="460.10" y1="561.00" x2="460.10" y2="573.00" stroke="#333" stroke-width="1.0" />
<line x1="463.00" y1="561.00" x2="463.00" y2="573.00" stroke="#333" stroke-width="1.0" />
<line x1="466.00" y1="561.00" x2="466.00" y2="573.00" stroke="#333" stroke-width="1.0" />
<line x1="471.80" y1="561.00" x2="471.80" y2="573.00" stroke="#333" stroke-width="1.0" />
<line x1="490.80" y1="561.00" x2="490.80" y2="573.00" stroke="#333" stroke-width="1.0" />
<line x1="494.60" y1="561.00" x2="494.60" y2="573.00" stroke="#333" stroke-width="1.0" />
<line x1="501.00" y1="561.00" x2="501.00" y2="573.00" stroke="#333" stroke-width="1.0" />
<line x1="506.90" y1="557.40" x2="506.90" y2="573.00" stroke="#333" stroke-width="1.0" />
<line x1="511.20" y1="561.00" x2="511.20" y2="573.00" stroke="#333" stroke-width="1.0" />
<rect x="36.5" y="531.8" width="3" height="3.9" fill="#fff"/>
<text x="100.50" y="420.30" font-size="16.0" font-family='"Liberation Sans", sans-serif' font-weight="normal" fill="#333" text-anchor="start" textLength="35.00" lengthAdjust="spacingAndGlyphs" stroke="#333" stroke-width="0.1">173.0529</text>
<text x="42.10" y="522.10" font-size="16.0" font-family='"Liberation Sans", sans-serif' font-weight="normal" fill="#333" text-anchor="start" textLength="34.80" lengthAdjust="spacingAndGlyphs" stroke="#333" stroke-width="0.1">110.0377</text>
<text x="100.80" y="545.00" font-size="16.0" font-family='"Liberation Sans", sans-serif' font-weight="normal" fill="#333" text-anchor="start" textLength="35.00" lengthAdjust="spacingAndGlyphs" stroke="#333" stroke-width="0.1">173.0739</text>
<text x="196.90" y="543.60" font-size="16.0" font-family='"Liberation Sans", sans-serif' font-weight="normal" fill="#333" text-anchor="start" textLength="36.10" lengthAdjust="spacingAndGlyphs" stroke="#333" stroke-width="0.1">446.7227</text>
<text x="240.60" y="545.10" font-size="16.0" font-family='"Liberation Sans", sans-serif' font-weight="normal" fill="#333" text-anchor="start" textLength="35.30" lengthAdjust="spacingAndGlyphs" stroke="#333" stroke-width="0.1">493.1806</text>
<text x="288.00" y="541.70" font-size="16.0" font-family='"Liberation Sans", sans-serif' font-weight="normal" fill="#333" text-anchor="start" textLength="36.00" lengthAdjust="spacingAndGlyphs" stroke="#333" stroke-width="0.1">588.0175</text>
<text x="297.50" y="520.80" font-size="16.0" font-family='"Liberation Sans", sans-serif' font-weight="normal" fill="#333" text-anchor="start" textLength="36.00" lengthAdjust="spacingAndGlyphs" stroke="#333" stroke-width="0.1">623.2998</text>
<text x="320.30" y="501.90" font-size="16.0" font-family='"Liberation Sans", sans-serif' font-weight="normal" fill="#333" text-anchor="start" textLength="36.00" lengthAdjust="spacingAndGlyphs" stroke="#333" stroke-width="0.1">602.0303</text>
<text x="361.00" y="433.90" font-size="16.0" font-family='"Liberation Sans", sans-serif' font-weight="normal" fill="#333" text-anchor="start" textLength="35.80" lengthAdjust="spacingAndGlyphs" stroke="#333" stroke-width="0.1">673.5720</text>
<text x="383.30" y="452.80" font-size="16.0" font-family='"Liberation Sans", sans-serif' font-weight="normal" fill="#333" text-anchor="start" textLength="36.90" lengthAdjust="spacingAndGlyphs" stroke="#333" stroke-width="0.1">673.3196</text>
<text x="386.30" y="533.00" font-size="16.0" font-family='"Liberation Sans", sans-serif' font-weight="normal" fill="#333" text-anchor="start" textLength="35.90" lengthAdjust="spacingAndGlyphs" stroke="#333" stroke-width="0.1">718.6823</text>
<text x="411.00" y="507.70" font-size="16.0" font-family='"Liberation Sans", sans-serif' font-weight="normal" fill="#333" text-anchor="start" textLength="34.90" lengthAdjust="spacingAndGlyphs" stroke="#333" stroke-width="0.1">802.7181</text>
<text x="456.00" y="495.70" font-size="16.0" font-family='"Liberation Sans", sans-serif' font-weight="normal" fill="#333" text-anchor="start" textLength="35.60" lengthAdjust="spacingAndGlyphs" stroke="#333" stroke-width="0.1">840.4173</text>
<text x="478.70" y="543.20" font-size="16.0" font-family='"Liberation Sans", sans-serif' font-weight="normal" fill="#333" text-anchor="start" textLength="35.50" lengthAdjust="spacingAndGlyphs" stroke="#333" stroke-width="0.1">840.0809</text>
<text x="557.20" y="532.10" font-size="16.0" font-family='"Liberation Sans", sans-serif' font-weight="normal" fill="#333" text-anchor="start" textLength="39.50" lengthAdjust="spacingAndGlyphs" stroke="#333" stroke-width="0.1">1023.4672</text>
<text x="533.30" y="554.50" font-size="16.0" font-family='"Liberation Sans", sans-serif' font-weight="normal" fill="#333" text-anchor="start" textLength="35.90" lengthAdjust="spacingAndGlyphs" stroke="#333" stroke-width="0.1">976.9910</text>
<text x="583.30" y="554.50" font-size="16.0" font-family='"Liberation Sans", sans-serif' font-weight="normal" fill="#333" text-anchor="start" textLength="39.70" lengthAdjust="spacingAndGlyphs" stroke="#333" stroke-width="0.1">1069.0368</text>
<text x="136.00" y="532.60" font-size="13.6" font-family='"Liberation Sans", sans-serif' font-weight="normal" fill="#222" text-anchor="start" textLength="53.00" lengthAdjust="spacingAndGlyphs" >286.1365</text>
<text x="165.80" y="514.00" font-size="10.5" font-family='"Liberation Sans", sans-serif' font-weight="bold" fill="#111" text-anchor="start" textLength="12.20" lengthAdjust="spacingAndGlyphs" >y3</text>
<text x="90.80" y="393.20" font-size="10.5" font-family='"Liberation Sans", sans-serif' font-weight="bold" fill="#111" text-anchor="start" textLength="11.60" lengthAdjust="spacingAndGlyphs" >y2</text>
<line x1="97.00" y1="400.50" x2="101.50" y2="405.50" stroke="#333" stroke-width="0.9" />
<line x1="96.80" y1="556.20" x2="101.60" y2="548.90" stroke="#333" stroke-width="0.9" />
<line x1="162.80" y1="538.00" x2="160.90" y2="557.60" stroke="#333" stroke-width="0.9" />
<line x1="234.90" y1="547.00" x2="252.00" y2="561.40" stroke="#333" stroke-width="0.9" />
<line x1="324.00" y1="544.40" x2="331.60" y2="553.90" stroke="#333" stroke-width="0.9" />
<line x1="333.50" y1="522.70" x2="350.60" y2="539.40" stroke="#333" stroke-width="0.9" />
<line x1="380.60" y1="461.00" x2="385.80" y2="455.10" stroke="#333" stroke-width="0.9" />
<line x1="380.30" y1="437.60" x2="380.30" y2="463.00" stroke="#333" stroke-width="0.9" />
<line x1="447.60" y1="510.40" x2="452.70" y2="520.50" stroke="#333" stroke-width="0.9" />
<line x1="475.30" y1="520.50" x2="478.70" y2="530.70" stroke="#333" stroke-width="0.9" />
<line x1="578.80" y1="537.00" x2="578.80" y2="562.00" stroke="#333" stroke-width="0.9" />
<line x1="277.40" y1="549.30" x2="277.40" y2="557.60" stroke="#333" stroke-width="0.9" stroke-dasharray="2,1"/>
<text x="389.70" y="377.40" font-size="12.0" font-family='"Liberation Sans", sans-serif' font-weight="bold" fill="#111" text-anchor="start" textLength="51.80" lengthAdjust="spacingAndGlyphs" >Parent ion</text>
<text x="389.00" y="391.90" font-size="12.0" font-family='"Liberation Sans", sans-serif' font-weight="bold" fill="#111" text-anchor="start" textLength="12.00" lengthAdjust="spacingAndGlyphs" >4+</text>
<line x1="413.80" y1="395.30" x2="387.45" y2="415.83" stroke="#111" stroke-width="1.5" />
<polygon points="383.90,418.60 386.25,413.48 389.44,417.58" fill="#111"/>
</svg>
</body></html>
